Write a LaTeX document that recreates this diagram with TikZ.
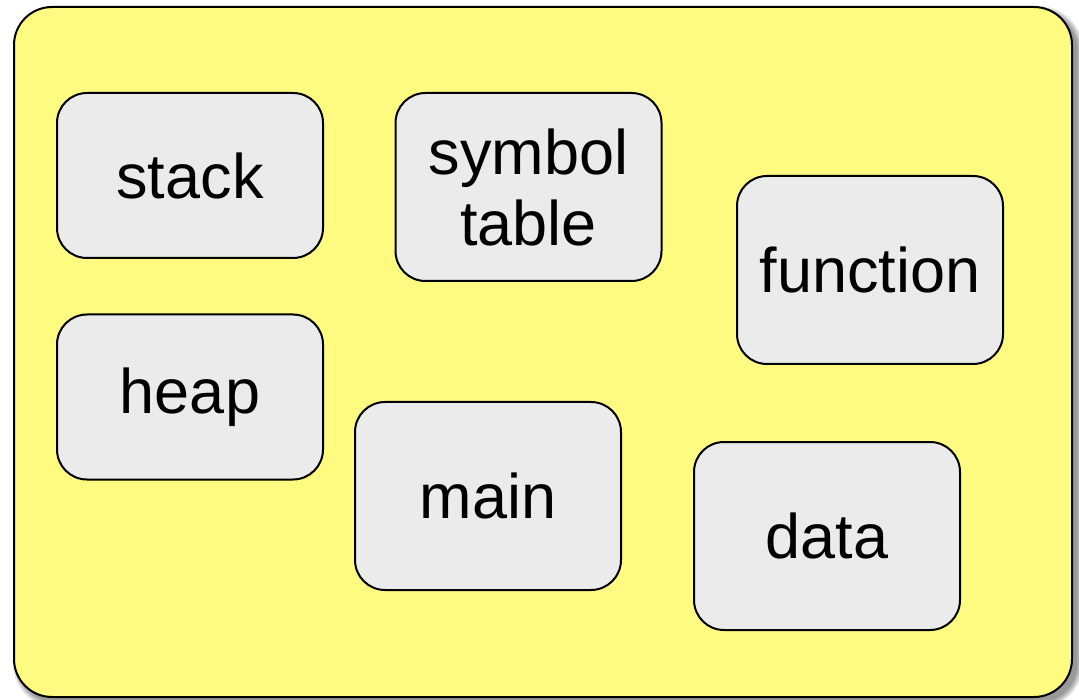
\documentclass[tikz,border=0pt]{standalone}
\usepackage{fontspec}
\setmainfont{Liberation Sans}
\begin{document}
\begin{tikzpicture}[x=1pt,y=-1pt,
  part/.style={draw=black, line width=2pt, fill=nodegray, rounded corners=30pt,
    minimum width=266pt, align=center, inner sep=0pt,
    font=\fontsize{63}{71}\selectfont}]
\definecolor{nodegray}{RGB}{235,235,235}
\definecolor{bgyellow}{RGB}{255,250,128}
\useasboundingbox (0,0) rectangle (1079,700);
% shadow of the outer box
\foreach \k in {0,1,2,3,4,5,6}{
  \fill[black, opacity=0.07, rounded corners=38pt+\k pt]
    (14+5-\k,7+5-\k) rectangle (1072+5+\k,697+5+\k);
}
\draw[line width=2pt, fill=bgyellow, rounded corners=38pt] (14,7) rectangle (1072,697);
\node[part, minimum height=165pt] (stack) at (190,175.5) {stack};
\node[part, minimum height=188pt] (symtab) at (528.5,187) {symbol\\table};
\node[part, minimum height=188pt] (function) at (870,270) {function};
\node[part, minimum height=165pt] (heap) at (190,397) {heap};
\node[part, minimum height=188pt] (main) at (488,496) {main};
\node[part, minimum height=188pt] (data) at (827,536) {data};
\end{tikzpicture}
\end{document}
